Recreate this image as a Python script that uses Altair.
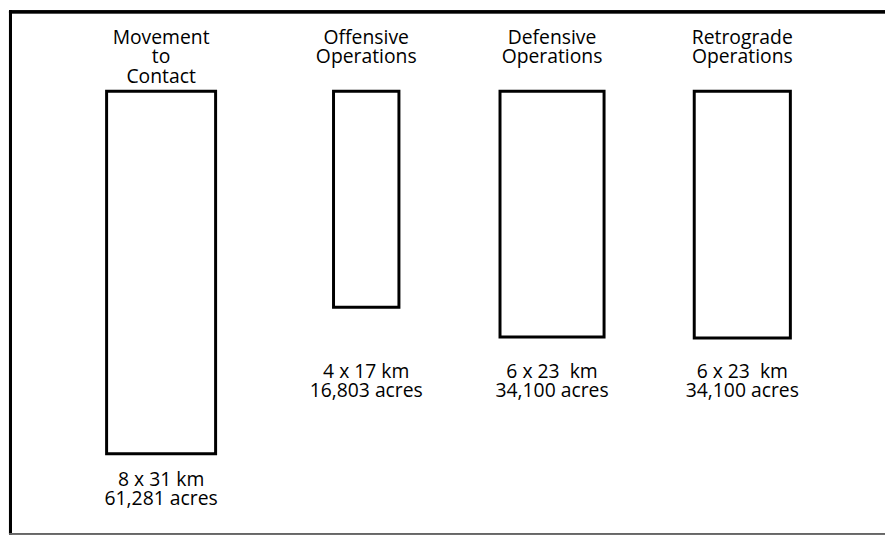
import altair as alt
import pandas as pd

# ---- data ----
operations = ["Movement to Contact", "Offensive Operations",
              "Defensive Operations", "Retrograde Operations"]
header_text = ["Movement\nto\nContact", "Offensive\nOperations",
               "Defensive\nOperations", "Retrograde\nOperations"]
dimension_text = ["8 x 31 km", "4 x 17 km", "6 x 23\u00a0 km", "6 x 23\u00a0 km"]
area_text = ["61,281 acres", "16,803 acres", "34,100 acres", "34,100 acres"]

# drawn zone boxes (schematic units, as sketched in the figure)
box_center = [154.5, 361.5, 549.0, 741.0]
box_width = [110, 66, 105, 97]
box_top = [81.5, 81.5, 81.5, 81.5]
box_bottom = [447.5, 299.5, 329.5, 330.5]
label_baseline = [480, 371, 371, 371]
header_baseline = [34, 34, 34, 34]

W, H = 885, 529

df = pd.DataFrame({
    "operation": operations,
    "header": header_text,
    "label": [d + "\n" + a for d, a in zip(dimension_text, area_text)],
    "center": box_center,
    "bw": box_width,
    "top": box_top,
    "bottom": box_bottom,
    "label_y": label_baseline,
    "header_y": header_baseline,
})

xs = alt.Scale(domain=[0, W], nice=False, zero=False)
ys = alt.Scale(domain=[0, H], nice=False, zero=False, reverse=True)
FONT = "Open Sans"

base = alt.Chart(df)

boxes = base.transform_calculate(
    x0="datum.center - datum.bw / 2",
    x1="datum.center + datum.bw / 2",
).mark_rect(fill="white", stroke="black", strokeWidth=3).encode(
    x=alt.X("x0:Q", scale=xs, axis=None),
    x2="x1:Q",
    y=alt.Y("top:Q", scale=ys, axis=None),
    y2="bottom:Q",
)

headers = base.mark_text(
    font=FONT, fontSize=19.5, lineBreak="\n", lineHeight=19.5,
    align="center", baseline="alphabetic", color="black",
).encode(
    x=alt.X("center:Q", scale=xs, axis=None),
    y=alt.Y("header_y:Q", scale=ys, axis=None),
    text="header:N",
)

labels = base.mark_text(
    font=FONT, fontSize=19.5, lineBreak="\n", lineHeight=19.5,
    align="center", baseline="alphabetic", color="black",
).encode(
    x=alt.X("center:Q", scale=xs, axis=None),
    y=alt.Y("label_y:Q", scale=ys, axis=None),
    text="label:N",
)

frame_left = alt.Chart(df).mark_rule(color="black", strokeWidth=3).encode(
    x=alt.value(2.5), y=alt.value(0), y2=alt.value(H))
frame_top = alt.Chart(df).mark_rule(color="black", strokeWidth=3).encode(
    x=alt.value(1), x2=alt.value(W), y=alt.value(1.5))
frame_bottom = alt.Chart(df).mark_rule(color="#666666", strokeWidth=1.5).encode(
    x=alt.value(1), x2=alt.value(W), y=alt.value(H - 0.75))

chart = alt.layer(boxes, headers, labels, frame_left, frame_top, frame_bottom).properties(
    width=W, height=H, padding=0, autosize=alt.AutoSizeParams(type="none"),
).configure_view(stroke=None)

chart.save("out.html", embed_options={"renderer": "svg", "actions": False})
